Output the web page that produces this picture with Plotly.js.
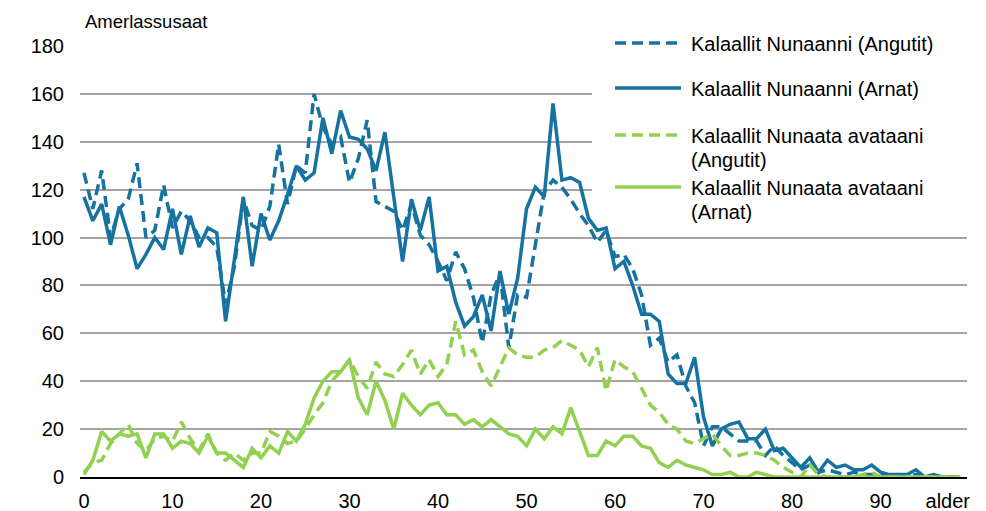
<!DOCTYPE html>
<html>
<head>
<meta charset="utf-8">
<script src="https://cdn.plot.ly/plotly-3.0.1.min.js"></script>
<style>html,body{margin:0;padding:0;background:#fff;}#chart{width:986px;height:511px;}</style>
</head>
<body>
<div id="chart"></div>
<script>
// Ages 0..99
const ages = Array.from({length: 100}, (_, i) => i);

// Kalaallit Nunaanni (Angutit) – born in Greenland, men
const gl_men = [127,112,128,100,112,116,131,100,103,122,
                104,111,107,100,100,96,72,88,116,105,
                103,113,139,114,130,127,160,146,139,142,
                123,133,149,115,113,111,103,114,101,97,
                90,82,94,87,75,56,76,85,54,76,
                75,97,119,124,121,116,110,105,98,103,
                92,93,87,76,55,58,48,51,38,31,
                13,21,21,18,15,15,15,9,13,9,
                6,3,5,2,3,2,1,2,1,1,
                1,0,1,0,1,0,0,0,0,0];

// Kalaallit Nunaanni (Arnat) – born in Greenland, women
const gl_women = [117,107,114,97,113,101,87,93,100,95,
                  112,93,109,96,104,102,65,90,117,88,
                  110,99,107,118,130,124,127,150,135,153,
                  142,141,137,128,144,117,90,116,103,117,
                  86,88,73,63,67,76,61,86,68,83,
                  112,121,117,156,124,125,123,108,103,104,
                  87,90,80,68,68,65,43,39,39,50,
                  25,13,20,22,23,16,16,20,11,12,
                  8,4,8,2,7,4,5,3,3,5,
                  2,1,1,1,3,0,1,0,0,0];

// Kalaallit Nunaata avataani (Angutit) – born outside Greenland, men
const out_men = [2,6,7,14,18,22,14,11,16,17,
                 15,23,16,11,18,10,7,10,7,10,
                 10,19,17,14,15,20,26,31,40,44,
                 49,42,37,48,43,42,47,53,43,49,
                 42,47,65,51,53,44,38,46,54,51,
                 50,50,53,54,57,55,53,46,54,36,
                 49,46,44,37,30,27,22,20,15,14,
                 16,18,13,9,9,10,10,9,7,4,
                 2,0,5,1,0,0,0,0,1,2,
                 0,0,0,0,0,0,0,0,0,0];

// Kalaallit Nunaata avataani (Arnat) – born outside Greenland, women
const out_women = [1,7,19,15,18,17,18,8,18,18,
                   12,15,14,10,17,10,10,7,4,12,
                   8,13,10,19,15,22,33,40,44,44,
                   49,33,26,40,32,20,35,30,26,30,
                   31,26,26,22,24,21,24,21,18,17,
                   13,20,16,21,18,29,19,9,9,15,
                   13,17,17,13,12,6,4,7,5,4,
                   3,1,1,2,0,0,2,1,0,0,
                   0,0,0,0,0,0,0,0,0,0,
                   0,0,0,0,0,0,0,0,0,0];

const seriesNames = [
  "Kalaallit Nunaanni (Angutit)",
  "Kalaallit Nunaanni (Arnat)",
  "Kalaallit Nunaata avataani (Angutit)",
  "Kalaallit Nunaata avataani (Arnat)"
];
const xTickVals = [0,10,20,30,40,50,60,70,80,90,97.6];
const xTickText = ["0","10","20","30","40","50","60","70","80","90","alder"];
const yTickVals = [0,20,40,60,80,100,120,140,160,180];

const BLUE = "#1572A1";
const GREEN = "#92D050";
const DASH = "11px,6px";
const LW = 3.5;
const FONT = "Liberation Sans, Arial, sans-serif";
const FS = 20;

// pixel -> paper helpers (plot area: x 80..967, y 46..477)
const L = 80, R = 967, T = 46, B = 477;
const px = x => (x - L) / (R - L);
const py = y => (B - y) / (B - T);

const traces = [
  {x: ages, y: gl_men, name: seriesNames[0], mode: "lines", line: {color: BLUE, width: LW, dash: DASH}},
  {x: ages, y: gl_women, name: seriesNames[1], mode: "lines", line: {color: BLUE, width: LW}},
  {x: ages, y: out_men, name: seriesNames[2], mode: "lines", line: {color: GREEN, width: LW, dash: DASH}},
  {x: ages, y: out_women, name: seriesNames[3], mode: "lines", line: {color: GREEN, width: LW}}
].map(t => Object.assign(t, {hoverinfo: "skip", showlegend: false}));

// custom legend
const legendItems = [
  {y: 43, color: BLUE, dash: DASH, lines: ["Kalaallit Nunaanni (Angutit)"]},
  {y: 88, color: BLUE, dash: "solid", lines: ["Kalaallit Nunaanni (Arnat)"]},
  {y: 135, color: GREEN, dash: DASH, lines: ["Kalaallit Nunaata avataani", "(Angutit)"]},
  {y: 187, color: GREEN, dash: "solid", lines: ["Kalaallit Nunaata avataani", "(Arnat)"]}
];

const shapes = [
  {type: "rect", xref: "paper", yref: "paper", x0: px(592), x1: px(986), y0: py(215), y1: py(0),
   fillcolor: "#ffffff", line: {width: 0}, layer: "above"}
];
const annotations = [
  {text: "Amerlassusaat", xref: "paper", yref: "paper", x: px(83), y: py(22),
   xanchor: "left", yanchor: "middle", showarrow: false, font: {family: FONT, size: 18.5, color: "#000"}}
];
legendItems.forEach(it => {
  shapes.push({type: "line", xref: "paper", yref: "paper", x0: px(615), x1: px(681), y0: py(it.y), y1: py(it.y),
    line: {color: it.color, width: LW, dash: it.dash}, layer: "above"});
  it.lines.forEach((t, k) => {
    annotations.push({text: t, xref: "paper", yref: "paper", x: px(689), y: py(it.y + 1 + k * 24),
      xanchor: "left", yanchor: "middle", showarrow: false, font: {family: FONT, size: FS, color: "#000"}});
  });
});

const layout = {
  width: 986, height: 511,
  margin: {l: L, r: 986 - R, t: T, b: 511 - B, pad: 0},
  paper_bgcolor: "#fff", plot_bgcolor: "#fff",
  showlegend: false,
  font: {family: FONT, size: FS, color: "#000"},
  xaxis: {
    range: [-0.45, 99.77], tickmode: "array", tickvals: xTickVals, ticktext: xTickText,
    showgrid: false, zeroline: false, showline: true, linecolor: "#000", linewidth: 2,
    ticks: "", ticklabelstandoff: 5, tickfont: {family: FONT, size: FS, color: "#000"}
  },
  yaxis: {
    range: [0, 180], tickmode: "array", tickvals: yTickVals,
    showgrid: true, gridcolor: "#a5a5a5", gridwidth: 2, zeroline: false, showline: false,
    ticks: "", ticklabelstandoff: 15, tickfont: {family: FONT, size: FS, color: "#000"}
  },
  shapes: shapes,
  annotations: annotations
};

Plotly.newPlot("chart", traces, layout, {staticPlot: true, displayModeBar: false});
</script>
</body>
</html>
